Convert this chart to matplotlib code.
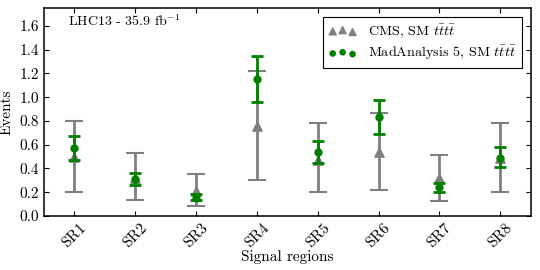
import matplotlib
matplotlib.use("Agg")
import matplotlib.pyplot as plt
import numpy as np

plt.rcParams["font.family"] = "serif"
plt.rcParams["font.serif"] = ["cmr10", "DejaVu Serif"]
plt.rcParams["mathtext.fontset"] = "cm"
plt.rcParams["axes.formatter.use_mathtext"] = True

regions = ["SR1", "SR2", "SR3", "SR4", "SR5", "SR6", "SR7", "SR8"]

cms = np.array([0.50, 0.32, 0.21, 0.76, 0.47, 0.54, 0.32, 0.49])
cms_up = np.array([0.80, 0.53, 0.355, 1.22, 0.78, 0.87, 0.515, 0.78])
cms_lo = np.array([0.20, 0.135, 0.087, 0.30, 0.20, 0.215, 0.13, 0.20])

ma5 = np.array([0.57, 0.315, 0.155, 1.155, 0.54, 0.835, 0.24, 0.49])
ma5_up = np.array([0.67, 0.365, 0.183, 1.345, 0.635, 0.975, 0.28, 0.58])
ma5_lo = np.array([0.47, 0.262, 0.133, 0.958, 0.45, 0.69, 0.20, 0.41])

x = np.arange(1, len(regions) + 1)

fig = plt.figure(figsize=(5.4, 2.7), dpi=100)
ax = fig.add_axes([0.081, 0.2, 0.902, 0.77])

ax.errorbar(x, cms, yerr=[cms - cms_lo, cms_up - cms], fmt="none",
            ecolor="gray", elinewidth=2, capsize=6.5, capthick=1.5, zorder=2)
ax.scatter(x, cms, marker="^", s=45, color="gray", zorder=3,
           label=r"CMS, SM $t\bar{t}t\bar{t}$")

ax.errorbar(x, ma5, yerr=[ma5 - ma5_lo, ma5_up - ma5], fmt="none",
            ecolor="green", elinewidth=2, capsize=4.5, capthick=2, zorder=4)
ax.scatter(x, ma5, marker="o", s=25, color="green", zorder=5,
           label=r"MadAnalysis 5, SM $t\bar{t}t\bar{t}$")

ax.set_xlim(0.5, 8.5)
ax.set_ylim(0, 1.75)
ax.set_yticks(np.arange(0, 1.61, 0.2))
ax.set_xticks(x)
ax.set_xticklabels(regions, rotation=45, fontsize=11)
ax.tick_params(direction="in", top=True, right=True, labelsize=11)
ax.yaxis.set_major_formatter(matplotlib.ticker.FormatStrFormatter("%.1f"))
for s in ax.spines.values():
    s.set_linewidth(1.1)

ax.set_xlabel("Signal regions", fontsize=11, labelpad=0)
ax.set_ylabel("Events", fontsize=11)
ax.text(0.05, 0.975, r"LHC13 - 35.9 fb$^{-1}$", transform=ax.transAxes,
        fontsize=10, va="top", ha="left")

leg = ax.legend(loc="upper right", scatterpoints=3, fancybox=False,
                edgecolor="black", fontsize=10.2, framealpha=1,
                markerscale=0.75, labelspacing=0.3, borderaxespad=0.6)
leg.get_frame().set_linewidth(0.8)

fig.savefig("out.png", dpi=100)
